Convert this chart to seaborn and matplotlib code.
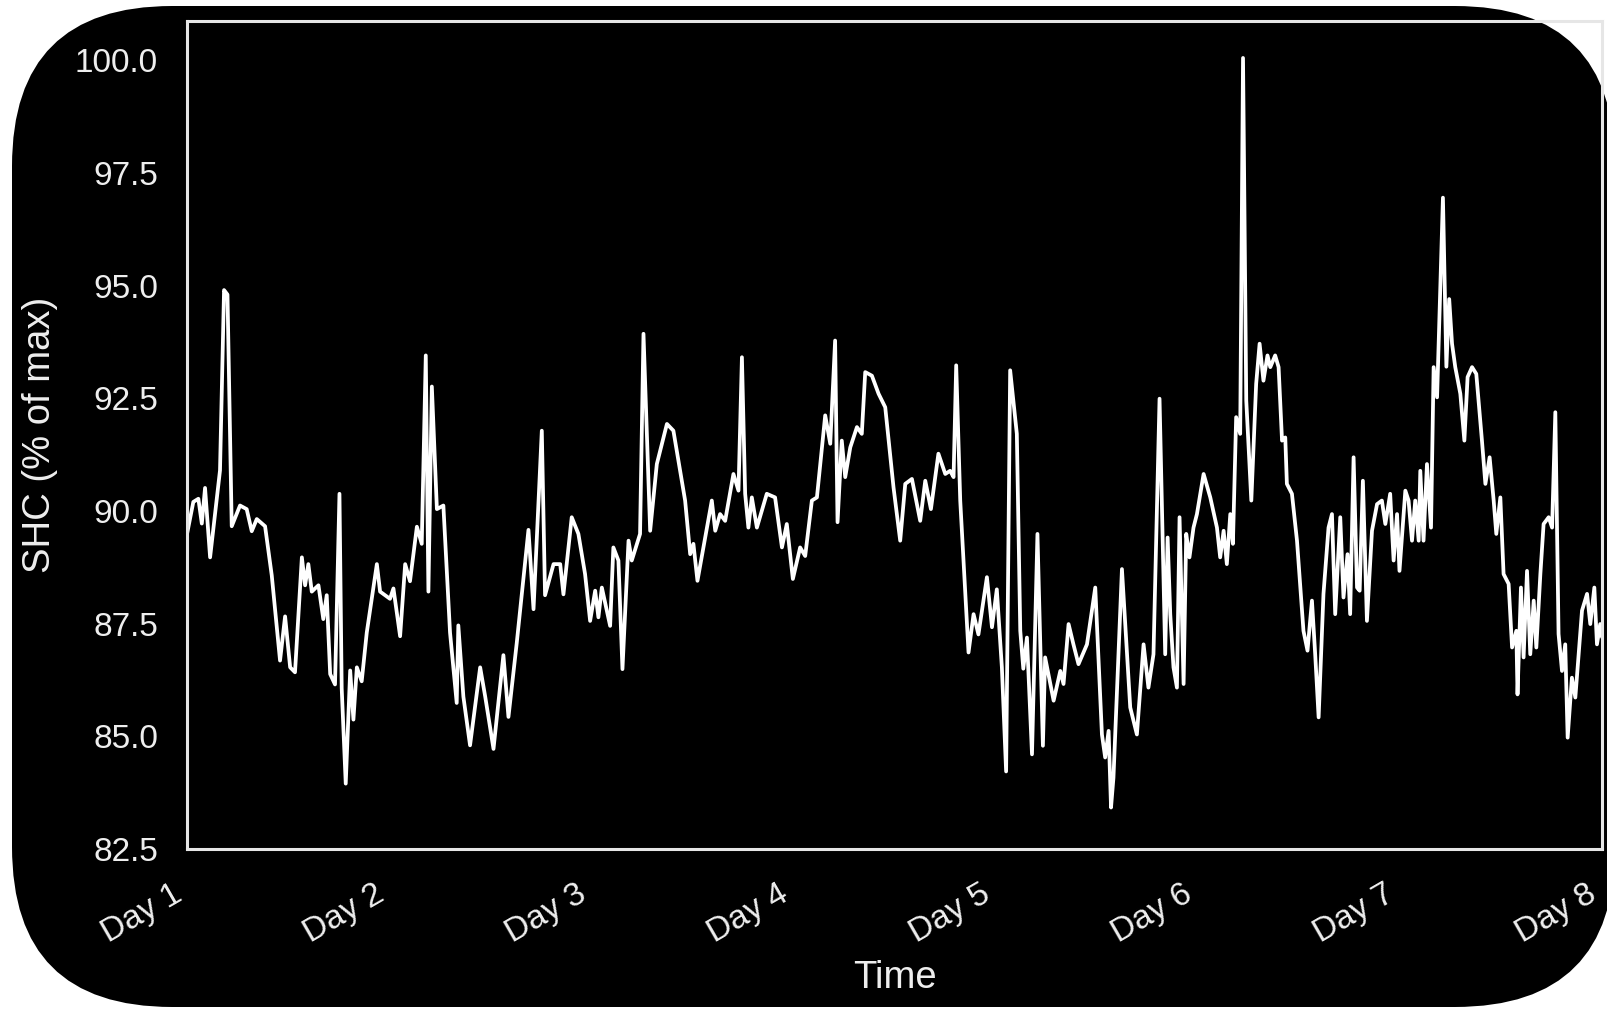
import numpy as np
import pandas as pd
import seaborn as sns
import matplotlib.pyplot as plt
from matplotlib.patches import FancyBboxPatch

# --- Data (time in days since Day 1) ---
days = [
    0.000, 0.031, 0.056, 0.073, 0.089, 0.114, 0.163, 0.183, 0.200, 0.221,
    0.262, 0.295, 0.320, 0.345, 0.386, 0.419, 0.460, 0.485, 0.510, 0.534,
    0.568, 0.584, 0.600, 0.617, 0.650, 0.674, 0.691, 0.708, 0.732, 0.754,
    0.765, 0.785, 0.807, 0.823, 0.840, 0.864, 0.889, 0.939, 0.955, 1.004,
    1.021, 1.054, 1.079, 1.103, 1.137, 1.161, 1.181, 1.194, 1.211, 1.236,
    1.268, 1.301, 1.334, 1.342, 1.367, 1.400, 1.450, 1.475, 1.516, 1.540,
    1.565, 1.590, 1.631, 1.689, 1.714, 1.755, 1.771, 1.813,
    1.846, 1.862, 1.903, 1.936, 1.969, 1.994, 2.019, 2.035, 2.052, 2.093,
    2.109, 2.134, 2.154, 2.184, 2.200, 2.241, 2.258, 2.291, 2.324, 2.374,
    2.406, 2.464, 2.489, 2.505, 2.525, 2.596, 2.613, 2.637, 2.662, 2.703,
    2.728, 2.745, 2.761, 2.777, 2.794, 2.819, 2.868, 2.909, 2.943, 2.967,
    2.997, 3.033, 3.058, 3.091, 3.116, 3.157, 3.182, 3.206, 3.218, 3.239,
    3.256, 3.281, 3.314, 3.338, 3.355, 3.388, 3.421, 3.454, 3.495, 3.528,
    3.553, 3.586, 3.627, 3.652, 3.680, 3.717, 3.751, 3.775, 3.792, 3.805,
    3.825, 3.866, 3.891, 3.915,
    3.957, 3.982, 4.006, 4.031, 4.052, 4.072, 4.105, 4.122, 4.137, 4.155,
    4.180, 4.207, 4.234, 4.245, 4.287, 4.320, 4.336, 4.361, 4.385, 4.410,
    4.452, 4.493, 4.526, 4.542, 4.559, 4.571, 4.583, 4.625, 4.666, 4.699,
    4.732, 4.756, 4.781, 4.811, 4.839, 4.851,
    4.864, 4.880, 4.897, 4.910, 4.930, 4.943, 4.959, 4.979, 4.996, 5.029,
    5.062, 5.095, 5.111, 5.128, 5.144, 5.161, 5.174, 5.190, 5.210, 5.224,
    5.240, 5.265, 5.289, 5.306, 5.325, 5.345, 5.359, 5.383, 5.400, 5.417,
    5.433, 5.441, 5.466, 5.491, 5.523, 5.543, 5.565, 5.581, 5.598, 5.622,
    5.647, 5.664, 5.680, 5.705, 5.721, 5.741, 5.754, 5.771, 5.788, 5.801,
    5.817, 5.837, 5.862, 5.887, 5.911, 5.928, 5.952,
    5.969, 5.986, 5.998, 6.027, 6.043, 6.060, 6.076, 6.093, 6.101, 6.117,
    6.134, 6.154, 6.167, 6.184, 6.213, 6.230, 6.244, 6.258, 6.274, 6.299,
    6.319, 6.335, 6.357, 6.378, 6.406, 6.423, 6.444, 6.464, 6.477, 6.497,
    6.513, 6.538, 6.555, 6.576, 6.582, 6.599, 6.612, 6.629, 6.645, 6.662,
    6.675, 6.695, 6.711, 6.736, 6.753, 6.769, 6.785, 6.802, 6.818, 6.830,
    6.851, 6.868, 6.901, 6.926, 6.942, 6.962, 6.975, 6.991, 7.000,
]

shc = [
    89.49, 90.20, 90.27, 89.72, 90.51, 88.97, 90.90, 94.90, 94.80, 89.66,
    90.12, 90.04, 89.55, 89.82, 89.66, 88.57, 86.68, 87.66, 86.53, 86.42,
    88.97, 88.35, 88.82, 88.21, 88.35, 87.60, 88.13, 86.38, 86.15, 90.38,
    86.07, 83.95, 86.46, 85.37, 86.53, 86.22, 87.30, 88.82, 88.21, 88.05,
    88.28, 87.22, 88.82, 88.44, 89.65, 89.27, 93.45, 88.21, 92.76, 90.04,
    90.12, 87.30, 85.74, 87.46, 85.88, 84.80, 86.53, 85.88, 84.72, 85.74,
    86.80, 85.43, 87.07, 89.58, 87.82, 91.78, 88.13, 88.82,
    88.82, 88.15, 89.86, 89.49, 88.60, 87.56, 88.23, 87.64, 88.30, 87.45,
    89.19, 88.90, 86.49, 89.34, 88.90, 89.49, 93.93, 89.56, 91.04, 91.93,
    91.78, 90.23, 89.04, 89.27, 88.45, 90.23, 89.56, 89.93, 89.78, 90.82,
    90.45, 93.41, 90.38, 89.63, 90.30, 89.63, 90.38, 90.30, 89.19, 89.71,
    88.49, 89.19, 89.00, 90.23, 90.30, 92.12, 91.49, 93.78, 89.75, 91.56,
    90.75, 91.41, 91.86, 91.71, 93.08, 93.00, 92.60, 92.30, 90.52, 89.34,
    90.60, 90.71, 89.78, 90.67, 90.04, 91.27, 90.82, 90.89, 90.75, 93.23,
    90.23, 86.86, 87.71, 87.26,
    88.53, 87.42, 88.26, 86.53, 84.22, 93.12, 91.71, 87.34, 86.50, 87.19,
    84.60, 89.49, 84.79, 86.75, 85.79, 86.45, 86.16, 87.49, 87.04, 86.60,
    87.04, 88.30, 85.04, 84.53, 85.12, 83.42, 84.08, 88.71, 85.64, 85.04,
    87.04, 86.08, 86.82, 92.49, 86.82, 89.41,
    87.71, 86.53, 86.08, 89.86, 86.16, 89.49, 88.97, 89.63, 89.93, 90.82,
    90.30, 89.63, 88.97, 89.56, 88.82, 89.93, 89.27, 92.08, 91.71, 100.05,
    92.45, 90.23, 92.82, 93.71, 92.89, 93.45, 93.19, 93.45, 93.19, 91.56,
    91.63, 90.60, 90.38, 89.34, 87.34, 86.90, 88.01, 86.82, 85.42, 88.16,
    89.63, 89.93, 87.71, 89.86, 88.08, 89.04, 87.71, 91.19, 88.30, 88.23,
    90.67, 87.56, 89.56, 90.15, 90.23, 89.71, 90.38,
    88.90, 89.93, 88.67, 90.45, 90.23, 89.34, 90.23, 89.34, 90.89, 89.34,
    91.04, 89.63, 93.19, 92.52, 96.95, 93.20, 94.70, 93.71, 93.19, 92.60,
    91.56, 92.97, 93.19, 93.04, 91.56, 90.60, 91.19, 90.23, 89.49, 90.30,
    88.60, 88.38, 86.97, 87.34, 85.93, 88.30, 86.75, 88.67, 86.82, 88.01,
    86.97, 88.60, 89.71, 89.86, 89.63, 92.19, 87.27, 86.45, 87.04, 84.97,
    86.30, 85.86, 87.79, 88.16, 87.49, 88.30, 87.04, 87.49, 87.20,
]

day_ticks = [0, 1, 2, 3, 4, 5, 6, 7]
day_labels = ["Day 1", "Day 2", "Day 3", "Day 4", "Day 5", "Day 6", "Day 7", "Day 8"]
y_ticks = [82.5, 85.0, 87.5, 90.0, 92.5, 95.0, 97.5, 100.0]

df = pd.DataFrame({"Time": days, "SHC": shc})

# --- Styling ---
sns.set_theme(style="white")
plt.rcParams["font.family"] = ["Liberation Sans", "DejaVu Sans"]
TEXT = "#eeeeee"

fig = plt.figure(figsize=(16.07, 10.09), dpi=100, facecolor="white")

# rounded black card behind everything
card = FancyBboxPatch((0.12, 0.02), 16.03, 10.01,
                      boxstyle="round,pad=0,rounding_size=1.6",
                      transform=fig.dpi_scale_trans,
                      facecolor="black", edgecolor="none", zorder=-1)
fig.add_artist(card)

ax = fig.add_axes([0.1164, 0.1586, 0.8805, 0.8206])
ax.set_facecolor("none")

sns.lineplot(data=df, x="Time", y="SHC", ax=ax, color="white", linewidth=2.7)

ax.set_xlim(0, 7)
ax.set_ylim(82.5, 100.87)
ax.set_xticks(day_ticks)
ax.set_xticklabels(day_labels, rotation=30, ha="right")
ax.set_yticks(y_ticks)
ax.set_yticklabels([f"{v:.1f}" for v in y_ticks])

ax.tick_params(axis="both", length=0, labelsize=24, labelcolor=TEXT, pad=21)
ax.set_xlabel("Time", fontsize=27.5, color=TEXT, labelpad=8)
ax.set_ylabel("SHC (% of max)", fontsize=27.5, color=TEXT, labelpad=12)

for side in ["left", "right", "top", "bottom"]:
    ax.spines[side].set_color("#e6e6e6")
    ax.spines[side].set_linewidth(2.2)

fig.savefig("out.png", dpi=100, facecolor="white")
